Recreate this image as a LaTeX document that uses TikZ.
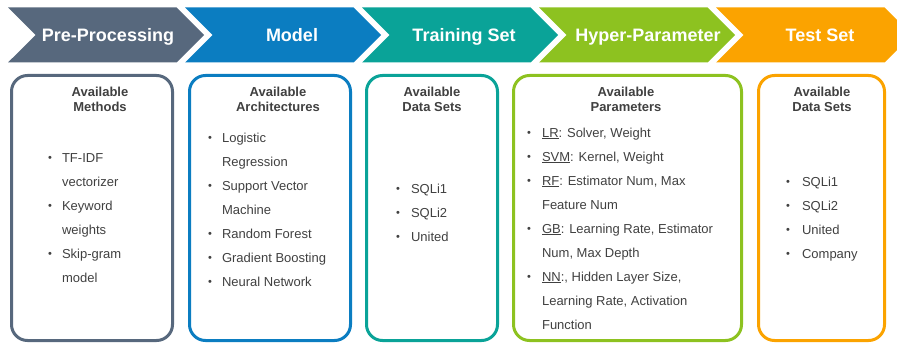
\documentclass[tikz,border=0pt]{standalone}
\usepackage{fontspec}
\setmainfont{Liberation Sans}
\usetikzlibrary{shapes.symbols, positioning}
\definecolor{preGray}{HTML}{57687D}
\definecolor{modelBlue}{HTML}{0B7DC1}
\definecolor{trainTeal}{HTML}{0AA398}
\definecolor{hyperGreen}{HTML}{8DC220}
\definecolor{testOrange}{HTML}{FBA300}
\definecolor{txtGray}{HTML}{404040}
\newcommand{\bulletdot}{\raisebox{0.3pt}{\fontsize{11}{11}\selectfont •}}
\tikzset{%
  % Specifications for style of nodes:
            stage/.style = {signal, signal from=west, signal to=east,
                            minimum width=196pt, minimum height=55pt,
                            inner sep=0pt, draw=none},
            stagetext/.style = {anchor=base, inner sep=0pt, text=white,
                            font=\bfseries\fontsize{18}{20}\selectfont},
            panel/.style = {rectangle, rounded corners=16pt, line width=3pt,
                            minimum height=265pt},
            head/.style = {anchor=north, inner sep=0pt, align=center, text=txtGray,
                            font=\bfseries\fontsize{13}{15.5}\selectfont},
            items/.style = {anchor=north west, inner sep=0pt, text=txtGray,
                            font=\fontsize{13}{24}\selectfont}
}
\begin{document}
\begin{tikzpicture}[x=1pt, y=-1pt]
                        \useasboundingbox (0,0) rectangle (897,345);
                        % stages
                        \node[stage, fill=preGray] (pre) at (106,35) {};
                        \node[stage, fill=modelBlue] (model) at (283,35) {};
                        \node[stage, fill=trainTeal] (train) at (460,35) {};
                        \node[stage, fill=hyperGreen] (hyper) at (637,35) {};
                        \node[stage, fill=testOrange] (test) at (814,35) {};
                        \node[stagetext] (preText) at (108,41.5) {Pre-Processing};
                        \node[stagetext] (modelText) at (292,41.5) {Model};
                        \node[stagetext] (trainText) at (464,41.5) {Training Set};
                        \node[stagetext] (hyperText) at (648,41.5) {Hyper-Parameter};
                        \node[stagetext] (testText) at (820,41.5) {Test Set};
                        % panels
                        \node[panel, draw=preGray, minimum width=161pt] (preBox) at (92,208) {};
                        \node[panel, draw=modelBlue, minimum width=161pt] (modelBox) at (270,208) {};
                        \node[panel, draw=trainTeal, minimum width=131pt] (trainBox) at (432,208) {};
                        \node[panel, draw=hyperGreen, minimum width=228pt] (hyperBox) at (627.5,208) {};
                        \node[panel, draw=testOrange, minimum width=126pt] (testBox) at (821.5,208) {};
                        \node[head] (preHead) at (100,86.5) {Available\\Methods};
                        \node[head] (modelHead) at (278,86.5) {Available\\Architectures};
                        \node[head] (trainHead) at (432,86.5) {Available\\Data Sets};
                        \node[head] (hyperHead) at (626,86.5) {Available\\Parameters};
                        \node[head] (testHead) at (822,86.5) {Available\\Data Sets};
                        % lists
                        \node[items] (preList) at (48,145) {\begin{tabular}{@{}l@{\hspace{10pt}}l@{}}
                          \bulletdot & TF-IDF\\ & vectorizer\\
                          \bulletdot & Keyword\\ & weights\\
                          \bulletdot & Skip-gram\\ & model
                        \end{tabular}};
                        \node[items] (modelList) at (208,125) {\begin{tabular}{@{}l@{\hspace{10pt}}l@{}}
                          \bulletdot & Logistic\\ & Regression\\
                          \bulletdot & Support Vector\\ & Machine\\
                          \bulletdot & Random Forest\\
                          \bulletdot & Gradient Boosting\\
                          \bulletdot & Neural Network
                        \end{tabular}};
                        \node[items] (trainList) at (396,176) {\begin{tabular}{@{}l@{\hspace{11pt}}l@{}}
                          \bulletdot & SQLi1\\
                          \bulletdot & SQLi2\\
                          \bulletdot & United
                        \end{tabular}};
                        \node[items] (hyperList) at (527,120) {\begin{tabular}{@{}l@{\hspace{11pt}}l@{}}
                          \bulletdot & \underline{LR}: Solver, Weight\\
                          \bulletdot & \underline{SVM}: Kernel, Weight\\
                          \bulletdot & \underline{RF}: Estimator Num, Max\\ & Feature Num\\
                          \bulletdot & \underline{GB}: Learning Rate, Estimator\\ & Num, Max Depth\\
                          \bulletdot & \underline{NN}:, Hidden Layer Size,\\ & Learning Rate, Activation\\ & Function
                        \end{tabular}};
                        \node[items] (testList) at (786,169) {\begin{tabular}{@{}l@{\hspace{12pt}}l@{}}
                          \bulletdot & SQLi1\\
                          \bulletdot & SQLi2\\
                          \bulletdot & United\\
                          \bulletdot & Company
                        \end{tabular}};
                    \end{tikzpicture}
\end{document}
